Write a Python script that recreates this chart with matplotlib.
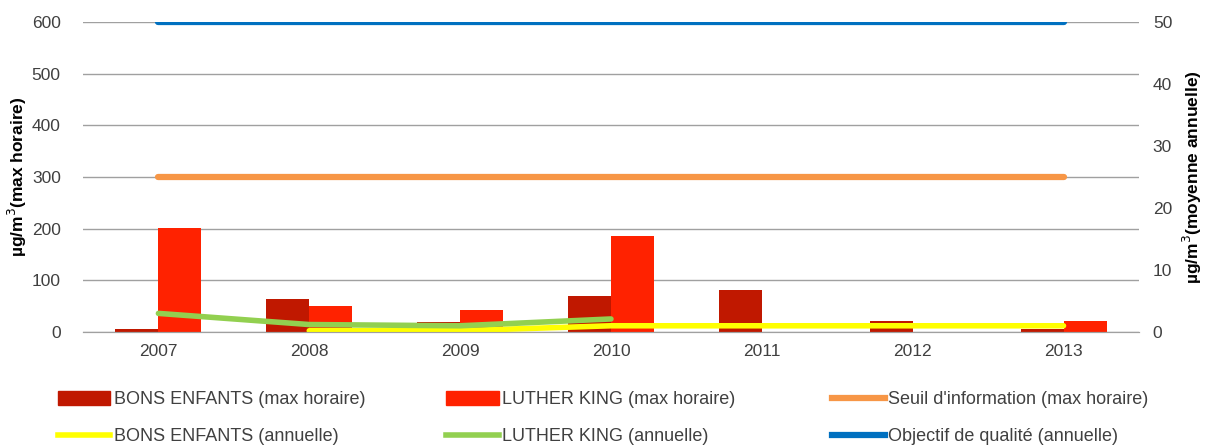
#!/usr/bin/env python3

"""
Max horaire / moyenne annuelle, BONS ENFANTS et LUTHER KING, 2007-2013
"""

import numpy as np
import matplotlib
matplotlib.use("Agg")
import matplotlib.pyplot as plt
from matplotlib.patches import Patch
from matplotlib.lines import Line2D

years = ["2007", "2008", "2009", "2010", "2011", "2012", "2013"]

# max horaire (axe gauche)
bons_max = [6, 64, 19, 70, 82, 21, 6]
luther_max = [201, 51, 42, 185, 0, 0, 21]

# moyennes annuelles (axe droit)
bons_annuel = [np.nan, 0.2, 0.2, 1.0, 1.0, 1.0, 1.0]
luther_annuel = [3.0, 1.2, 1.0, 2.1, np.nan, np.nan, np.nan]

seuil_info = 300       # max horaire
objectif_qualite = 50  # annuelle

C_BONS = "#c01800"
C_LUTHER = "#ff2200"
C_SEUIL = "#f79646"
C_YELLOW = "#ffff00"
C_GREEN = "#92d050"
C_BLUE = "#0070c0"
TXT = "#404040"

plt.rcParams['font.family'] = ['Liberation Sans', 'DejaVu Sans']


def main():
    fig = plt.figure(figsize=(12.06, 4.45), dpi=100)
    ax = fig.add_axes([0.0688, 0.254, 0.8756, 0.696])
    ax2 = ax.twinx()

    x = np.arange(len(years))
    w = 0.285
    ax.bar(x - w / 2, bons_max, w, color=C_BONS, zorder=2)
    ax.bar(x + w / 2, luther_max, w, color=C_LUTHER, zorder=2)
    ax.plot(x, [seuil_info] * len(x), color=C_SEUIL, lw=4.5, solid_capstyle='round', zorder=3)

    ax2.plot(x, bons_annuel, color=C_YELLOW, lw=4, solid_capstyle='round')
    ax2.plot(x, luther_annuel, color=C_GREEN, lw=4, solid_capstyle='round')
    ax2.plot(x, [objectif_qualite] * len(x), color=C_BLUE, lw=4.5, solid_capstyle='round')

    ax.set_xlim(-0.5, len(years) - 0.5)
    ax.set_ylim(0, 600)
    ax2.set_ylim(0, 50)
    ax.set_yticks(range(0, 601, 100))
    ax2.set_yticks(range(0, 51, 10))
    ax.set_xticks(x)
    ax.set_xticklabels(years)

    ax.yaxis.grid(True, color="#a0a0a0", lw=1)
    ax.set_axisbelow(True)
    for a in (ax, ax2):
        for s in ("top", "left", "right"):
            a.spines[s].set_visible(False)
        a.spines["bottom"].set_color("#a0a0a0")
        a.tick_params(length=0, labelsize=12.5, labelcolor=TXT)
    ax.tick_params(axis='y', pad=16)
    ax2.tick_params(axis='y', pad=10)
    ax.tick_params(axis='x', pad=9)

    ax.set_ylabel("µg/m$^3$(max horaire)", fontsize=12.5, fontweight='bold', labelpad=2)
    ax2.set_ylabel("µg/m$^3$(moyenne annuelle)", fontsize=12.5, fontweight='bold', labelpad=6)

    groups = [
        (0.048, [Patch(color=C_BONS), Line2D([], [], color=C_YELLOW, lw=4)],
         ["BONS ENFANTS (max horaire)", "BONS ENFANTS (annuelle)"]),
        (0.370, [Patch(color=C_LUTHER), Line2D([], [], color=C_GREEN, lw=4)],
         ["LUTHER KING (max horaire)", "LUTHER KING (annuelle)"]),
        (0.690, [Line2D([], [], color=C_SEUIL, lw=4.5), Line2D([], [], color=C_BLUE, lw=4.5)],
         ["Seuil d'information (max horaire)", "Objectif de qualité (annuelle)"]),
    ]
    for xpos, hs, ls in groups:
        leg = fig.legend(hs, ls, loc="upper left", bbox_to_anchor=(xpos, 0.121),
                         frameon=False, fontsize=13, handlelength=2.9,
                         handleheight=0.8, handletextpad=0.2, labelspacing=1.1,
                         borderaxespad=0, borderpad=0)
        for t in leg.get_texts():
            t.set_color(TXT)

    fig.savefig("out.png", dpi=100)


if __name__ == "__main__":
    main()
